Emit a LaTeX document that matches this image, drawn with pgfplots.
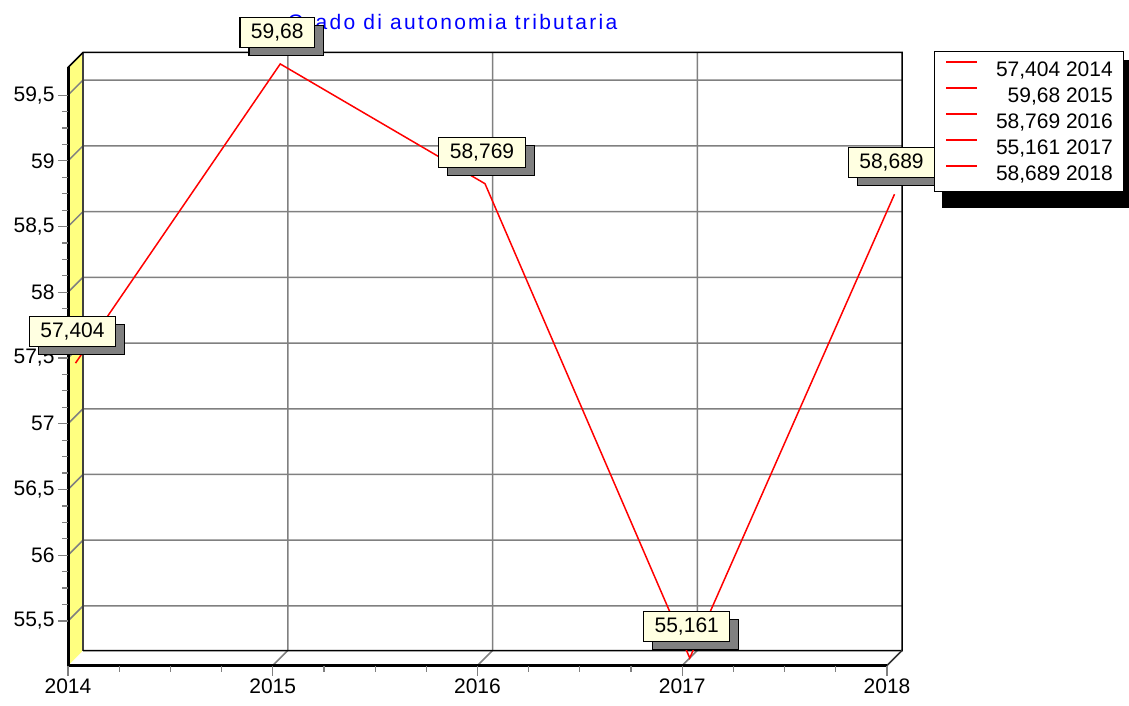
\documentclass[border=0pt]{standalone}
\usepackage{fontspec}
\setmainfont{Liberation Sans}
\usepackage{pgfplots}
\pgfplotsset{compat=1.18}
\usetikzlibrary{shadows}
\definecolor{wall}{RGB}{255,255,128}
\definecolor{lab}{RGB}{255,255,225}
\definecolor{gridg}{RGB}{128,128,128}
\newcommand{\bigf}{\fontsize{21}{25}\selectfont}
\begin{document}
\begin{tikzpicture}
\useasboundingbox (-68pt,-39.5pt) rectangle (1061pt,665.5pt);
% title
\node[anchor=base, text=blue, inner sep=0pt, font=\bigf\addfontfeature{LetterSpace=11}] at (384.5pt,635.5pt) {Grado di autonomia tributaria};
% legend shadow
\fill[black] (874pt,457pt) rectangle (1070pt,605.5pt);
% left wall
\fill[wall] (0pt,0pt) -- (15pt,15pt) -- (15pt,613pt) -- (0pt,598pt) -- cycle;
% horizontal grid
\foreach \v in {55.5,56,56.5,57,57.5,58,58.5,59,59.5}{
  \pgfmathsetmacro\yy{(\v-55.161)*598/4.549}
  \draw[gridg, line width=1.5pt] (0pt,\yy pt) -- (15pt,\yy pt+15pt) -- (834pt,\yy pt+15pt);
}
% vertical grid
\foreach \i in {1,2,3}{
  \draw[gridg, line width=1.5pt] (\i*204.75pt,0pt) -- (\i*204.75pt+15pt,15pt) -- (\i*204.75pt+15pt,613pt);
}
% back edges
\draw[gridg!50!black, line width=1.5pt] (15pt,15pt) -- (15pt,613pt);
\draw[black, line width=1.5pt] (0pt,598pt) -- (15pt,613pt) -- (834pt,613pt) -- (834pt,15pt) -- (15pt,15pt);
\draw[gridg!40!black, line width=1.5pt] (819pt,0pt) -- (834pt,15pt);
% front edges
\draw[black, line width=3pt] (0pt,598pt) -- (0pt,0pt) -- (819pt,0pt);
\begin{axis}[
  at={(0pt,0pt)}, anchor=south west,
  scale only axis, width=819pt, height=598pt,
  xmin=2014, xmax=2018, ymin=55.161, ymax=59.71,
  axis line style={draw=none},
  clip=false,
  xtick={2014,2015,2016,2017,2018},
  xticklabels={2014,2015,2016,2017,2018},
  ytick={55.5,56,56.5,57,57.5,58,58.5,59,59.5},
  yticklabels={{55,5},56,{56,5},57,{57,5},58,{58,5},59,{59,5}},
  minor x tick num=3, minor y tick num=3,
  xtick pos=bottom, ytick pos=left,
  tick align=outside, major tick length=10pt, minor tick length=6pt,
  every tick/.style={gridg, line width=1.2pt},
  ticklabel style={font=\bigf},
  legend style={at={(1.0574,1.0268)}, anchor=north west, draw=black, line width=1pt,
    fill=white, font=\bigf, inner xsep=11pt, inner ysep=9.5pt,
    nodes={inner sep=0pt}, column sep=18pt, row sep=9.5pt},
  legend cell align=right,
  legend image code/.code={\draw[#1] (0pt,7.6pt) -- (31pt,7.6pt);},
]
\addplot[red, line width=1.5pt, xshift=7.5pt, yshift=7.5pt, forget plot,
  nodes near coords, point meta=explicit symbolic,
  every node near coord/.append style={anchor=center, xshift=-3pt, yshift=31.5pt, draw=black,
    line width=1.2pt, fill=lab, text=black, font=\bigf, inner xsep=11pt,
    inner ysep=0pt, minimum height=30pt,
    drop shadow={shadow xshift=9pt, shadow yshift=-8pt, fill=gridg, opacity=1}}]
table[meta=label] {
x y label
2014 57.404 57,404
2015 59.68 59,68
2016 58.769 58,769
2017 55.161 55,161
2018 58.689 58,689
};
\addlegendimage{red, line width=1.5pt}
\addlegendentry{57,404 2014}
\addlegendimage{red, line width=1.5pt}
\addlegendentry{59,68 2015}
\addlegendimage{red, line width=1.5pt}
\addlegendentry{58,769 2016}
\addlegendimage{red, line width=1.5pt}
\addlegendentry{55,161 2017}
\addlegendimage{red, line width=1.5pt}
\addlegendentry{58,689 2018}
\end{axis}
\end{tikzpicture}
\end{document}
